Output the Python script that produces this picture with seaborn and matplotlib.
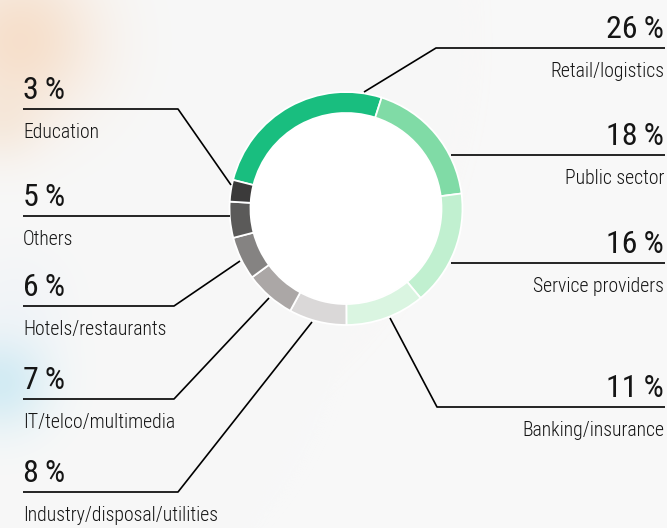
import matplotlib
matplotlib.use("Agg")
import numpy as np
import matplotlib.pyplot as plt
from matplotlib import font_manager
from matplotlib.patches import Circle
import seaborn as sns

# figure size in pixels (layout below is given in pixel coords, y from the top)
W, H = 667, 528

sectors = ["Retail/logistics", "Public sector", "Service providers", "Banking/insurance",
           "Industry/disposal/utilities", "IT/telco/multimedia", "Hotels/restaurants",
           "Others", "Education"]
shares = [26, 18, 16, 11, 8, 7, 6, 5, 3]
colors = ["#19be7f", "#80dba6", "#c1f0d0", "#daf5e1", "#dad8d8",
          "#aba7a6", "#858382", "#5b5a59", "#3b3a3a"]

# label layout: side, y of the underline, elbow x, point on the ring
sides = ["R", "R", "R", "R", "L", "L", "L", "L", "L"]
line_y = [48, 155, 263, 407, 492, 399, 306, 216, 109]
elbow_x = [436, 451, 451, 437, 178, 174, 174, 230, 178]
anchors = [(364, 92), (451, 155), (451, 263), (390, 318), (312, 322),
           (269, 298), (240, 261), (230, 216), (231, 185)]

sns.set_theme(style="white")

available = {f.name for f in font_manager.fontManager.ttflist}
FONT = "DejaVu Sans"
for cand in ["Roboto Condensed", "Liberation Sans Narrow", "Open Sans Condensed", "DejaVu Sans Condensed"]:
    if cand in available:
        FONT = cand
        break
plt.rcParams["font.family"] = [FONT, "DejaVu Sans"]
plt.rcParams["font.stretch"] = "condensed"


def py(y):
    return H - y


fig = plt.figure(figsize=(W / 100, H / 100), dpi=100, facecolor="#f8f8f8")
ax = fig.add_axes([0, 0, 1, 1])
ax.set_facecolor("#f8f8f8")

# faint washed-out photo behind the chart: soft warm / cool smudges on the left edge
gx, gy = np.meshgrid(np.arange(W), np.arange(H))
bg = np.ones((H, W, 3)) * (248 / 255)
for (bx, by, rad, col, strength) in [(20, 40, 55, (0.96, 0.80, 0.66), 0.55),
                                     (0, 120, 30, (0.95, 0.85, 0.75), 0.35),
                                     (0, 380, 35, (0.70, 0.88, 0.94), 0.55),
                                     (15, 300, 40, (0.92, 0.94, 0.97), 0.4)]:
    wgt = strength * np.exp(-((gx - bx) ** 2 + (gy - by) ** 2) / (2 * rad ** 2))
    bg = bg * (1 - wgt[..., None]) + np.array(col) * wgt[..., None]
ax.imshow(bg, extent=(0, W, 0, H), origin="upper", zorder=-2, aspect="auto")

cx, cy, r = 346, 208.5, 116.5
ax.add_patch(Circle((cx, py(cy)), r - 20, color="white", zorder=0))
ax.pie(shares, colors=colors, startangle=165.8, counterclock=False,
       radius=r, center=(cx, py(cy)),
       wedgeprops=dict(width=21, edgecolor="white", linewidth=1.3))

txt = "#151515"
for name, val, side, ly, ex, (axx, ayy) in zip(sectors, shares, sides, line_y, elbow_x, anchors):
    if side == "R":
        xs = [axx, ex, 665]
        tx, ha = 664, "right"
    else:
        xs = [axx, ex, 23]
        tx, ha = 23, "left"
    ax.plot(xs, [py(ayy), py(ly), py(ly)], color="black", lw=1.2, solid_capstyle="butt")
    ax.text(tx, py(ly - 10), f"{val}\u2009%", ha=ha, va="baseline",
            fontsize=23, color=txt)
    ax.text(tx, py(ly + 29), name, ha=ha, va="baseline",
            fontsize=14.2, color=txt, fontweight="light")

ax.set_xlim(0, W)
ax.set_ylim(0, H)
ax.set_aspect("equal")
ax.axis("off")

fig.savefig("out.png", dpi=100, facecolor=fig.get_facecolor())
